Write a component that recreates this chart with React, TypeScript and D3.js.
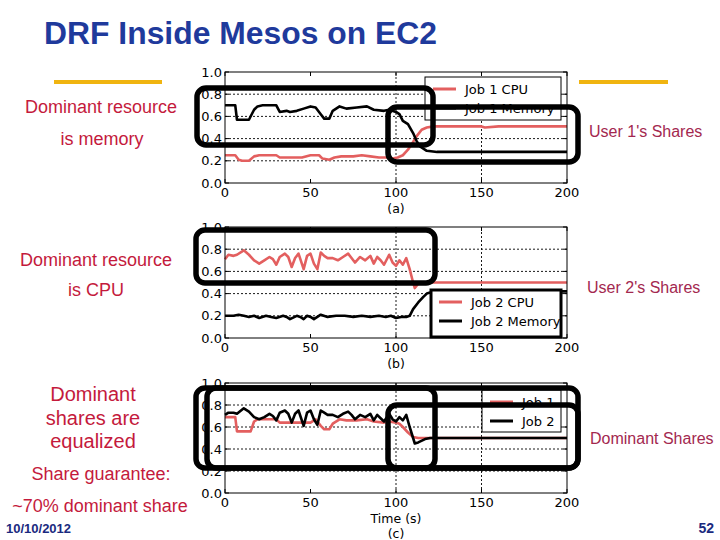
import React from "react";
import * as d3 from "d3";

const xTicks = [0, 50, 100, 150, 200];
const xGrid = [100, 150];
const yTicks = [0, 0.2, 0.4, 0.6, 0.8, 1.0];
const yGrid = [0.2, 0.4, 0.6, 0.8];

const job1Cpu: [number, number][] = [[0,0.25],[6,0.25],[8,0.21],[10,0.20],[14,0.20],[17,0.24],[20,0.25],[30,0.25],[32,0.23],[40,0.23],[45,0.23],[50,0.25],[55,0.25],[57,0.22],[61,0.21],[64,0.23],[68,0.24],[75,0.24],[80,0.25],[85,0.24],[90,0.23],[95,0.23],[98,0.22],[101,0.23],[104,0.25],[107,0.30],[110,0.37],[112,0.42],[115,0.48],[118,0.50],[122,0.51],[150,0.51],[152,0.50],[160,0.51],[200,0.51]];
const job1Mem: [number, number][] = [[0,0.70],[6,0.70],[7,0.57],[14,0.57],[17,0.66],[19,0.69],[22,0.70],[30,0.70],[32,0.64],[36,0.65],[38,0.64],[42,0.65],[46,0.67],[50,0.69],[53,0.68],[56,0.62],[58,0.58],[61,0.58],[63,0.65],[67,0.69],[71,0.67],[77,0.68],[83,0.69],[87,0.66],[93,0.65],[96,0.66],[100,0.64],[102,0.62],[104,0.56],[107,0.53],[110,0.45],[112,0.38],[114,0.33],[118,0.29],[124,0.28],[200,0.28]];
const job2Cpu: [number, number][] = [[0,0.71],[2,0.75],[5,0.74],[7,0.75],[11,0.79],[14,0.75],[17,0.70],[20,0.67],[23,0.70],[26,0.73],[28,0.71],[30,0.66],[32,0.73],[35,0.76],[37,0.73],[39,0.64],[41,0.72],[43,0.76],[46,0.62],[48,0.74],[50,0.76],[52,0.67],[54,0.62],[56,0.77],[58,0.74],[60,0.72],[63,0.72],[66,0.70],[69,0.73],[72,0.76],[74,0.72],[76,0.68],[79,0.73],[82,0.70],[85,0.74],[87,0.67],[89,0.73],[91,0.70],[93,0.66],[96,0.75],[98,0.68],[100,0.65],[102,0.70],[104,0.66],[106,0.72],[108,0.62],[110,0.50],[111,0.45],[113,0.49],[118,0.50],[200,0.50]];
const job2Mem: [number, number][] = [[0,0.20],[5,0.20],[8,0.21],[11,0.20],[14,0.19],[17,0.20],[20,0.18],[24,0.20],[27,0.19],[30,0.18],[34,0.20],[36,0.19],[38,0.17],[42,0.20],[44,0.19],[46,0.17],[48,0.20],[50,0.19],[52,0.17],[56,0.21],[60,0.19],[65,0.20],[70,0.20],[75,0.19],[80,0.20],[85,0.19],[90,0.20],[94,0.19],[97,0.20],[100,0.18],[103,0.19],[106,0.19],[108,0.20],[110,0.26],[113,0.32],[116,0.37],[118,0.40],[122,0.42],[200,0.42]];
const domJob1: [number, number][] = [[0,0.69],[6,0.69],[7,0.56],[15,0.56],[17,0.65],[19,0.67],[30,0.67],[32,0.64],[50,0.64],[53,0.67],[56,0.61],[58,0.58],[61,0.58],[63,0.63],[67,0.67],[71,0.66],[77,0.66],[83,0.67],[87,0.65],[93,0.64],[96,0.65],[100,0.64],[102,0.63],[104,0.60],[107,0.55],[110,0.51],[113,0.50],[200,0.50]];
const domJob2: [number, number][] = [[0,0.71],[2,0.73],[5,0.73],[7,0.72],[11,0.77],[14,0.74],[17,0.69],[20,0.67],[23,0.69],[26,0.72],[28,0.70],[30,0.66],[32,0.73],[35,0.75],[37,0.72],[39,0.64],[41,0.72],[43,0.75],[46,0.61],[48,0.73],[50,0.75],[52,0.67],[54,0.62],[56,0.75],[58,0.73],[60,0.71],[63,0.71],[66,0.69],[69,0.72],[72,0.74],[74,0.71],[76,0.67],[79,0.71],[82,0.69],[85,0.72],[87,0.66],[89,0.71],[91,0.68],[93,0.65],[96,0.72],[98,0.67],[100,0.65],[102,0.69],[104,0.66],[106,0.71],[108,0.60],[110,0.50],[111,0.45],[113,0.46],[117,0.49],[120,0.50],[200,0.50]];

const RED = "#e35f5f";
const BLACK = "#000";
const TEXT_RED = "#c41a3c";
const TEXT_RIGHT = "#a3284f";
const BLUE = "#1f3a9c";
const GOLD = "#f0b410";
const tickFont = "DejaVu Sans";
const slideFont = "Liberation Sans, Arial, sans-serif";

type Series = { data: [number, number][]; color: string; label: string };

type PanelProps = {
  top: number;
  bottom: number;
  series: Series[];
  legend: { x: number; y: number; w: number; h: number; sw: number };
  sub: string;
  xlabel?: string;
};

const Panel = ({ top, bottom, series, legend, sub, xlabel }: PanelProps) => {
  const x = d3.scaleLinear().domain([0, 200]).range([225, 567]);
  const y = d3.scaleLinear().domain([0, 1]).range([bottom, top]);
  const line = d3.line<[number, number]>().x((d) => x(d[0])).y((d) => y(d[1]));
  return (
    <g>
      <rect x={x(0)} y={y(1)} width={x(200) - x(0)} height={y(0) - y(1)} fill="#fff" />
      {yGrid.map((v) => (
        <line key={"gy" + v} x1={x(0)} x2={x(200)} y1={y(v)} y2={y(v)} stroke="#000" strokeWidth={0.9} strokeDasharray="2,2" />
      ))}
      {xGrid.map((v) => (
        <line key={"gx" + v} x1={x(v)} x2={x(v)} y1={y(0)} y2={y(1)} stroke="#000" strokeWidth={0.9} strokeDasharray="2,2" />
      ))}
      {series.map((s, i) => (
        <path key={i} d={line(s.data) || ""} fill="none" stroke={s.color} strokeWidth={2.6} strokeLinejoin="round" />
      ))}
      <rect x={x(0)} y={y(1)} width={x(200) - x(0)} height={y(0) - y(1)} fill="none" stroke="#000" strokeWidth={1} />
      {yTicks.map((v) => (
        <g key={"ty" + v}>
          <line x1={x(0)} x2={x(0) + 4} y1={y(v)} y2={y(v)} stroke="#000" />
          <line x1={x(200)} x2={x(200) - 4} y1={y(v)} y2={y(v)} stroke="#000" />
          <text x={x(0) - 3} y={y(v)} dy="0.36em" textAnchor="end" fontFamily={tickFont} fontSize={13} fill="#000">
            {v.toFixed(1)}
          </text>
        </g>
      ))}
      {xTicks.map((v) => (
        <g key={"tx" + v}>
          <line x1={x(v)} x2={x(v)} y1={y(0)} y2={y(0) - 4} stroke="#000" />
          <line x1={x(v)} x2={x(v)} y1={y(1)} y2={y(1) + 4} stroke="#000" />
          <text x={x(v)} y={y(0) + 14} textAnchor="middle" fontFamily={tickFont} fontSize={13} fill="#000">
            {v}
          </text>
        </g>
      ))}
      {xlabel && (
        <text x={x(100)} y={y(0) + 30} textAnchor="middle" fontFamily={tickFont} fontSize={12.5} fill="#000">
          {xlabel}
        </text>
      )}
      <text x={x(100)} y={y(0) + (xlabel ? 45 : 30)} textAnchor="middle" fontFamily={tickFont} fontSize={12.5} fill="#000">
        {sub}
      </text>
      <rect x={legend.x} y={legend.y} width={legend.w} height={legend.h} fill="#fff" stroke="#000" strokeWidth={legend.sw} />
      {series.map((s, i) => (
        <g key={"lg" + i}>
          <line x1={legend.x + 8} x2={legend.x + 31} y1={legend.y + 12 + i * 19} y2={legend.y + 12 + i * 19} stroke={s.color} strokeWidth={3} />
          <text x={legend.x + 40} y={legend.y + 12 + i * 19} dy="0.36em" fontFamily={tickFont} fontSize={13} fill="#000">
            {s.label}
          </text>
        </g>
      ))}
    </g>
  );
};

const RRect = ({ x0, y0, x1, y1 }: { x0: number; y0: number; x1: number; y1: number }) => (
  <rect x={x0} y={y0} width={x1 - x0} height={y1 - y0} rx={9} ry={9} fill="none" stroke="#000" strokeWidth={5.5} />
);

export default function App() {
  return (
    <svg width={720} height={540} style={{ position: "absolute", left: 0, top: 0, background: "#fff" }}>
      <rect width={720} height={540} fill="#fff" />
      <text x={44} y={44} fontFamily={slideFont} fontWeight="bold" fontSize={31} fill={BLUE} textLength={393} lengthAdjust="spacingAndGlyphs">
        DRF Inside Mesos on EC2
      </text>
      <line x1={54} x2={162} y1={82} y2={82} stroke={GOLD} strokeWidth={4} />
      <line x1={579} x2={668} y1={82} y2={82} stroke={GOLD} strokeWidth={4} />

      <Panel
        top={72}
        bottom={183}
        series={[
          { data: job1Cpu, color: RED, label: "Job 1 CPU" },
          { data: job1Mem, color: BLACK, label: "Job 1 Memory" },
        ]}
        legend={{ x: 425, y: 77, w: 136, h: 43, sw: 1 }}
        sub="(a)"
      />
      <Panel
        top={227}
        bottom={338}
        series={[
          { data: job2Cpu, color: RED, label: "Job 2 CPU" },
          { data: job2Mem, color: BLACK, label: "Job 2 Memory" },
        ]}
        legend={{ x: 431, y: 290, w: 130, h: 47, sw: 3 }}
        sub="(b)"
      />
      <Panel
        top={383}
        bottom={493}
        series={[
          { data: domJob1, color: RED, label: "Job 1" },
          { data: domJob2, color: BLACK, label: "Job 2" },
        ]}
        legend={{ x: 482, y: 390, w: 79, h: 42, sw: 1 }}
        sub="(c)"
        xlabel="Time (s)"
      />

      <RRect x0={197} y0={88} x1={433} y1={145} />
      <RRect x0={388} y0={107} x1={578} y1={162} />
      <RRect x0={196} y0={230} x1={435} y1={283} />
      <RRect x0={196} y0={388} x1={435} y1={468} />
      <RRect x0={207} y0={388} x1={578} y1={468} />
      <RRect x0={388} y0={405} x1={578} y1={468} />

      <g fontFamily={slideFont} fill={TEXT_RED} textAnchor="middle">
        <text x={101} y={113} fontSize={18}>Dominant resource</text>
        <text x={102} y={145} fontSize={18}>is memory</text>
        <text x={96} y={266} fontSize={18}>Dominant resource</text>
        <text x={96} y={296} fontSize={18}>is CPU</text>
        <text x={93} y={401} fontSize={20}>Dominant</text>
        <text x={93} y={425} fontSize={20}>shares are</text>
        <text x={93} y={448} fontSize={20}>equalized</text>
        <text x={101} y={480} fontSize={18}>Share guarantee:</text>
        <text x={100} y={512} fontSize={18}>~70% dominant share</text>
      </g>
      <g fontFamily={slideFont} fill={TEXT_RIGHT} fontSize={16}>
        <text x={589} y={137}>User 1's Shares</text>
        <text x={587} y={293}>User 2's Shares</text>
        <text x={590} y={444}>Dominant Shares</text>
      </g>
      <text x={6} y={533} fontFamily={slideFont} fontWeight="bold" fontSize={13} fill="#1a2a80">10/10/2012</text>
      <text x={714} y={533} textAnchor="end" fontFamily={slideFont} fontWeight="bold" fontSize={14} fill="#1a2a80">52</text>
    </svg>
  );
}
